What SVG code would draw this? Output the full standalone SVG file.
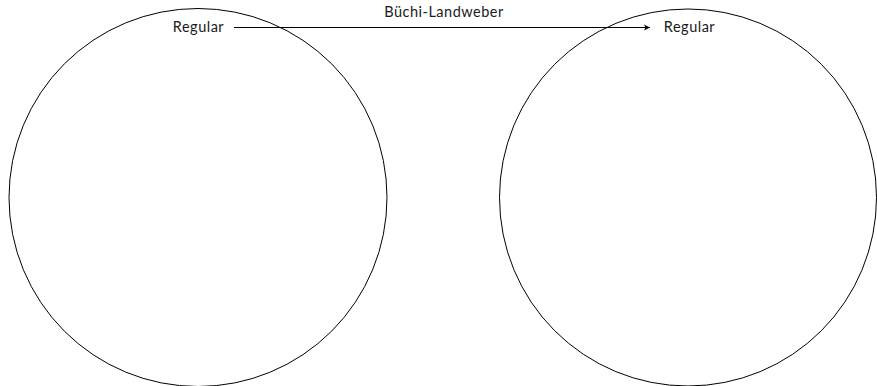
<svg xmlns="http://www.w3.org/2000/svg" width="877" height="386" viewBox="0 0 877 386">
<style>
text{font-family:Lato,"Open Sans",sans-serif;font-size:14.5px;letter-spacing:0.5px;fill:#1a1a1a}
.c{fill:none;stroke:#000;stroke-width:1}
.e{fill:none;stroke:#000;stroke-width:1}
</style>
<defs>
<marker id="ah" markerWidth="8" markerHeight="8" refX="7" refY="4" orient="auto" markerUnits="userSpaceOnUse">
<path d="M1,1 L7,4 L1,7 L2.5,4 Z" fill="#000"/>
</marker>
</defs>
<rect width="877" height="386" fill="#fff"/>
<g id="left">
<circle class="c" cx="198" cy="197.5" r="189"/>
<text x="198.5" y="32" text-anchor="middle">Regular</text>
</g>
<g id="right">
<circle class="c" cx="688" cy="197.5" r="188.5"/>
<text x="689.5" y="32" text-anchor="middle">Regular</text>
</g>
<g id="connectors">
<line class="e" x1="234" y1="27.5" x2="650" y2="27.5" marker-end="url(#ah)"/>
<text x="444" y="17" text-anchor="middle">Büchi-Landweber</text>
</g>
</svg>
